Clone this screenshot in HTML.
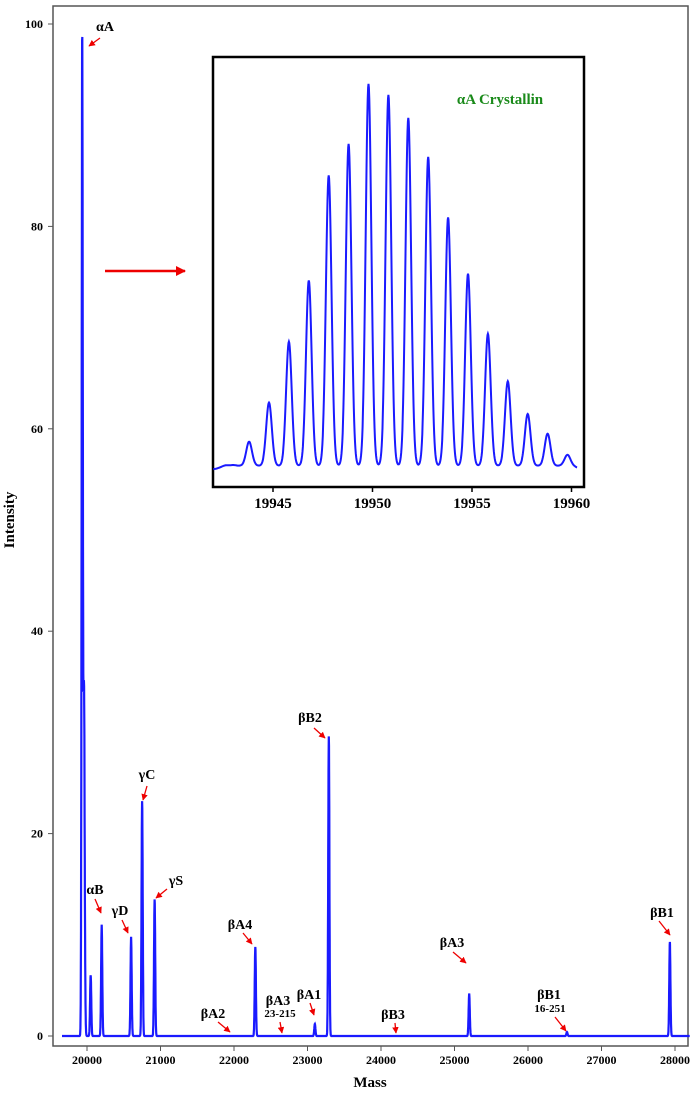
<!DOCTYPE html>
<html><head><meta charset="utf-8"><style>
body{margin:0;background:#fff}
svg{display:block;font-family:"Liberation Serif",serif;font-weight:bold}
</style></head><body>
<svg id="chart" width="700" height="1093" viewBox="0 0 700 1093">
<defs><marker id="ah" viewBox="0 0 10 10" refX="9" refY="5" markerWidth="5" markerHeight="5" orient="auto"><path d="M0,0L10,5L0,10z" fill="#e00"/></marker>
<marker id="ah2" viewBox="0 0 10 10" refX="9" refY="5" markerWidth="5" markerHeight="4" orient="auto"><path d="M0,0L10,5L0,10z" fill="#e00"/></marker></defs>
<rect x="53" y="6" width="635" height="1040" fill="none" stroke="#555" stroke-width="1.5"/>
<g id="axes"></g>
<path id="mainline" fill="none" stroke="#1a1aff" stroke-width="2.2"/>
<rect x="213" y="57" width="371" height="430" fill="#fff" stroke="#000" stroke-width="2.5"/>
<path id="insetline" fill="none" stroke="#1a1aff" stroke-width="2"/>
<g id="insetaxes"></g>
<text x="500" y="104" text-anchor="middle" font-size="15" fill="#1a8a1a">αA Crystallin</text>
<line x1="105" y1="271" x2="185" y2="271" stroke="#e00" stroke-width="2.5" marker-end="url(#ah2)"/>
<text x="370" y="1087" text-anchor="middle" font-size="15">Mass</text>
<text transform="translate(14,520) rotate(-90)" text-anchor="middle" font-size="15">Intensity</text>
<g id="labels" font-size="14"></g>
</svg>
<script>
const mainTicksX=[20000,21000,22000,23000,24000,25000,26000,27000,28000];
const mainTicksY=[0,20,40,60,80,100];
const peakMasses=[19935,19958,19968,20050,20200,20600,20750,20920,22290,23100,23290,25200,26530,27930];
const peakHeights=[98.8,30,7.8,6,11,9.8,23.2,13.5,8.8,1.2,29.6,4.2,0.4,9.3];
const insetTicks=[19945,19950,19955,19960];
const insetMasses=[19942.8,19943.8,19944.8,19945.8,19946.8,19947.8,19948.8,19949.8,19950.8,19951.8,19952.8,19953.8,19954.8,19955.8,19956.8,19957.8,19958.8,19959.8];
const insetHeights=[3,8.6,17.9,32.4,47,72,79.5,93.8,91.2,85.7,76.4,62,48.6,34.3,23,15.2,10.5,5.5];
const NS='http://www.w3.org/2000/svg';
const X=m=>87+(m-20000)*0.0735;
const Y=v=>1036-v*10.12;
const IX=m=>273+(m-19945)*19.9;
const IY=v=>478-v*4.2;
function el(t,a,p){const e=document.createElementNS(NS,t);for(const k in a)e.setAttribute(k,a[k]);p.appendChild(e);return e;}
const ax=document.getElementById('axes');
mainTicksX.forEach(t=>{
 const l=el('line',{x1:X(t),x2:X(t),y1:1046,y2:1051,stroke:'#555'},ax);
 
 
 const tx=el('text',{x:X(t),y:1064,'text-anchor':'middle','font-size':12},ax);tx.textContent=t;
 
 
});
mainTicksY.forEach(t=>{
 const l=el('line',{x1:48,x2:53,y1:Y(t),y2:Y(t),stroke:'#555'},ax);
 
 
 const tx=el('text',{x:43,y:Y(t)+4,'text-anchor':'end','font-size':12},ax);tx.textContent=t;
 
 
});
let d='';
for(let m=19660;m<=28200;m+=2){
 let v=0;peakMasses.forEach((pm,i)=>{const s=8;v+=peakHeights[i]*Math.exp(-((m-pm)**2)/(2*s*s));});
 d+=(d?'L':'M')+X(m).toFixed(1)+','+Y(v).toFixed(1);
}
document.getElementById('mainline').setAttribute('d',d);
let di='';
for(let m=19942.0;m<=19960.3;m+=0.02){
 let v=2;insetMasses.forEach((pm,i)=>{const s=0.14;v+=(insetHeights[i]-3.3)*Math.exp(-((m-pm)**2)/(2*s*s));v+=1.3*Math.exp(-((m-pm)**2)/(2*0.35*0.35));});
 di+=(di?'L':'M')+IX(m).toFixed(1)+','+IY(v).toFixed(1);
}
document.getElementById('insetline').setAttribute('d',di);
const ia=document.getElementById('insetaxes');
insetTicks.forEach(t=>{
 const l=el('line',{x1:IX(t),x2:IX(t),y1:487,y2:492,stroke:'#000','stroke-width':1.5},ia);
 
 
 const tx=el('text',{x:IX(t),y:508,'text-anchor':'middle','font-size':15},ia);tx.textContent=t;
 
 
});
const labels=[
 ['αA',105,31,100,38,89,46],['αB',95,894,95,899,101,913],['γD',120,915,122,920,128,933],
 ['γC',147,779,147,786,143,800],['γS',176,885,167,889,156,898],['βA4',240,929,243,933,252,944],
 ['βA2',213,1018,218,1022,230,1032],['βA3',278,1005,280,1022,282,1033],['βA1',309,999,310,1003,314,1015],
 ['βB2',310,722,314,728,325,738],['βB3',393,1019,395,1023,396,1033],['βA3',452,947,453,952,466,963],
 ['βB1',549,999,555,1017,566,1031],['βB1',662,917,659,921,670,935]];
const lg=document.getElementById('labels');
labels.forEach(a=>{
 const tx=el('text',{x:a[1],y:a[2],'text-anchor':'middle'},lg);tx.textContent=a[0];
 
 
 const l=el('line',{x1:a[3],y1:a[4],x2:a[5],y2:a[6],stroke:'#e00','stroke-width':1.3,'marker-end':'url(#ah)'},lg);
 
 
});
[['23-215',280,1017],['16-251',550,1012]].forEach(a=>{
 const tx=el('text',{x:a[1],y:a[2],'text-anchor':'middle','font-size':11},lg);tx.textContent=a[0];
 
 
});
</script>
</body></html>
